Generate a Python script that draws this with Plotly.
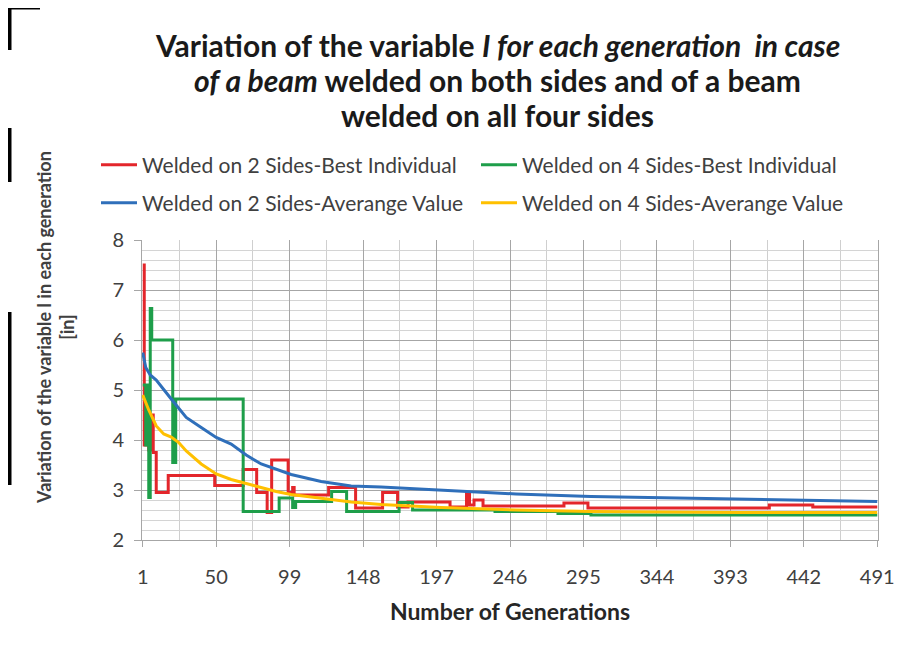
import plotly.graph_objects as go

# values (generation, value)
gen_best_2 = [1, 2, 4, 5, 7, 8, 10, 18, 49, 68, 77, 84, 87, 98, 101, 102, 125, 143,
              161, 171, 178, 206, 217, 219, 222, 228, 282, 298, 419, 448, 491]
val_best_2 = [7.5, 3.9, 4.6, 3.8, 4.5, 3.75, 2.95, 3.29, 3.09, 3.41, 2.95, 2.55, 3.6, 2.95,
              3.05, 2.9, 3.05, 2.64, 2.95, 2.66, 2.76, 2.66, 2.95, 2.7, 2.8, 2.68, 2.74,
              2.64, 2.70, 2.66, 2.66]

gen_best_4 = [1, 3, 4, 5, 6, 7, 21, 23, 68, 92, 101, 103, 127, 137, 172, 181, 236, 278, 300, 491]
val_best_4 = [5.1, 3.9, 5.1, 2.85, 6.63, 6.0, 3.55, 4.82, 2.57, 2.84, 2.65, 2.77, 2.97, 2.57,
              2.75, 2.6, 2.57, 2.53, 2.5, 2.5]

gen_avg_2 = [1, 3, 6, 10, 20, 30, 40, 50, 60, 70, 80, 90, 100, 120, 140, 160, 180, 200,
             225, 250, 300, 350, 400, 450, 491]
val_avg_2 = [5.75, 5.45, 5.3, 5.2, 4.82, 4.45, 4.25, 4.05, 3.92, 3.7, 3.52, 3.41, 3.31, 3.17,
             3.08, 3.06, 3.03, 2.99, 2.95, 2.92, 2.87, 2.84, 2.81, 2.79, 2.77]

gen_avg_4 = [1, 5, 10, 15, 20, 25, 30, 40, 50, 60, 70, 80, 90, 100, 120, 140, 160, 200,
             250, 300, 350, 400, 491]
val_avg_4 = [4.9, 4.6, 4.28, 4.12, 4.06, 3.95, 3.78, 3.52, 3.32, 3.21, 3.13, 3.05, 2.97, 2.91,
             2.83, 2.76, 2.71, 2.65, 2.6, 2.57, 2.56, 2.55, 2.55]

x_ticks = [1, 50, 99, 148, 197, 246, 295, 344, 393, 442, 491]

names = ['Welded on 2 Sides-Best Individual', 'Welded on 4 Sides-Best Individual',
         'Welded on 2 Sides-Averange Value', 'Welded on 4 Sides-Averange Value']
colors = ['#E3262B', '#1E9E4A', '#2F6FBA', '#FFC000']

# plot area in reference pixels; the page body adds an 8px offset
OFF = 8
L, R, T, B = 142, 878, 240, 540
W, H = 908 - OFF, 647 - OFF
FONT = 'Lato, sans-serif'


def px_x(p):
    return (p - L) / (R - L)


def px_y(p):
    return (B - p) / (B - T)


fig = go.Figure()
series = [(gen_best_2, val_best_2, 'hv'), (gen_best_4, val_best_4, 'hv'),
          (gen_avg_2, val_avg_2, 'linear'), (gen_avg_4, val_avg_4, 'linear')]
legends = ['legend2', 'legend3', 'legend4', 'legend5']
for (gx, gy, shape), name, col, lg in zip(series, names, colors, legends):
    fig.add_trace(go.Scatter(x=gx, y=gy, mode='lines', name=name, legend=lg,
                             line=dict(color=col, width=3, shape=shape)))

leg_common = dict(orientation='h', xanchor='left', yanchor='middle', bgcolor='rgba(0,0,0,0)',
                  font=dict(family=FONT, size=21, color='#404040'), itemwidth=36)
fig.update_layout(
    legend2=dict(x=px_x(96), y=px_y(165), **leg_common),
    legend3=dict(x=px_x(476), y=px_y(165), **leg_common),
    legend4=dict(x=px_x(96), y=px_y(203), **leg_common),
    legend5=dict(x=px_x(476), y=px_y(203), **leg_common),
)

title_lines = [
    ('<b>Variation of the variable <i>I for each generation  in case</i></b>', 45),
    ('<b><i>of a beam</i> welded on both sides and of a beam</b>', 80),
    ('<b>welded on all four sides</b>', 115),
]
for txt, yy in title_lines:
    fig.add_annotation(text=txt, x=px_x(497), y=px_y(yy), xref='paper', yref='paper',
                       showarrow=False, xanchor='center', yanchor='middle',
                       font=dict(family=FONT, size=30, color='#1a1a1a'))

fig.add_annotation(text='<b>Variation of the variable l in each generation<br>[in]</b>',
                   x=px_x(55), y=px_y(328), xref='paper', yref='paper', textangle=-90,
                   showarrow=False, xanchor='center', yanchor='middle',
                   font=dict(family=FONT, size=18, color='#404040'))

# black scan edge on the left
for y0, y1 in [(8, 50), (128, 182), (312, 485)]:
    fig.add_shape(type='line', xref='paper', yref='paper', x0=px_x(9.5), x1=px_x(9.5),
                  y0=px_y(y0), y1=px_y(y1), line=dict(color='black', width=4))
fig.add_shape(type='line', xref='paper', yref='paper', x0=px_x(8), x1=px_x(40),
              y0=px_y(8), y1=px_y(8), line=dict(color='black', width=3))

fig.update_layout(
    width=W, height=H,
    margin=dict(l=L - OFF, r=908 - R, t=T - OFF, b=647 - B, autoexpand=False),
    paper_bgcolor='white', plot_bgcolor='white', showlegend=True,
    font=dict(family=FONT, color='#404040'),
)
fig.update_xaxes(range=[0.5, 491.5], tickmode='array', tickvals=x_ticks,
                 ticktext=[str(v) for v in x_ticks],
                 showgrid=True, gridcolor='#A6A6A6', gridwidth=1,
                 minor=dict(tickmode='linear', tick0=1, dtick=24.5, showgrid=True,
                            gridcolor='#CFCFCF'),
                 ticks='outside', ticklen=6, tickcolor='#A6A6A6',
                 showline=True, linecolor='#A6A6A6', zeroline=False,
                 ticklabelstandoff=13, tickfont=dict(size=20, color='#404040'),
                 title=dict(text='<b>Number of Generations</b>', standoff=16,
                            font=dict(size=23, color='#262626')))
fig.update_yaxes(range=[2, 8], dtick=1, showgrid=True, gridcolor='#A6A6A6', gridwidth=1,
                 minor=dict(dtick=0.2, showgrid=True, gridcolor='#D4D4D4'),
                 ticks='outside', ticklen=7, tickcolor='#A6A6A6',
                 showline=True, linecolor='#A6A6A6', zeroline=False, mirror=True,
                 ticklabelstandoff=6, tickfont=dict(size=20, color='#404040'))

fig.write_html("out.html")
